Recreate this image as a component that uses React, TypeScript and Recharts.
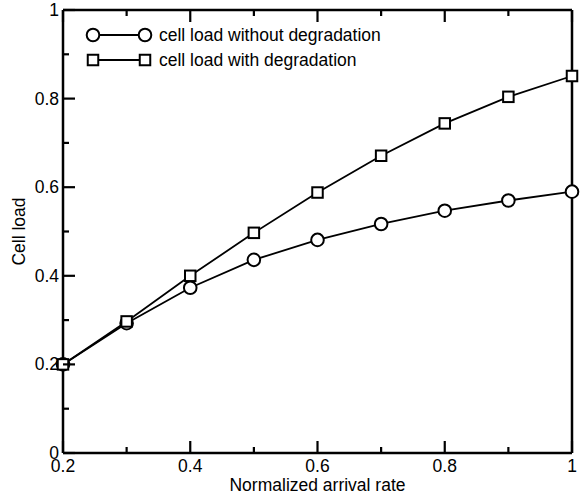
import React from 'react';
import { LineChart, Line, XAxis, YAxis } from 'recharts';

const arrivalRates = [0.2, 0.3, 0.4, 0.5, 0.6, 0.7, 0.8, 0.9, 1.0];
const loadWithout = [0.2, 0.293, 0.373, 0.436, 0.481, 0.517, 0.547, 0.570, 0.590];
const loadWith = [0.2, 0.297, 0.4, 0.497, 0.588, 0.671, 0.744, 0.804, 0.851];

const xTicks = [0.2, 0.3, 0.4, 0.5, 0.6, 0.7, 0.8, 0.9, 1.0];
const xTickLabels = ['0.2', '', '0.4', '', '0.6', '', '0.8', '', '1'];
const yTicks = [0, 0.1, 0.2, 0.3, 0.4, 0.5, 0.6, 0.7, 0.8, 0.9, 1.0];
const yTickLabels = ['0', '', '0.2', '', '0.4', '', '0.6', '', '0.8', '', '1'];

const seriesNames = ['cell load without degradation', 'cell load with degradation'];
const xTitle = 'Normalized arrival rate';
const yTitle = 'Cell load';

const data = arrivalRates.map((x, i) => ({ x, without: loadWithout[i], with: loadWith[i] }));

const FONT = '"Liberation Sans", Arial, Helvetica, sans-serif';
const FS = 17.5;

const BottomTick = (props: any) => {
  const { x, y, index } = props;
  const label = xTickLabels[index];
  const len = label ? 12 : 6;
  return (
    <g>
      <line x1={x} y1={y} x2={x} y2={y - len} stroke="black" strokeWidth={2.2} />
      <text x={x} y={y + 19} textAnchor="middle" fontFamily={FONT} fontSize={FS} fill="black">{label}</text>
    </g>
  );
};
const TopTick = (props: any) => {
  const { x, y, index } = props;
  const len = xTickLabels[index] ? 12 : 6;
  return <line x1={x} y1={y} x2={x} y2={y + len} stroke="black" strokeWidth={2.2} />;
};
const LeftTick = (props: any) => {
  const { x, y, index } = props;
  const label = yTickLabels[index];
  const len = label ? 12 : 6;
  return (
    <g>
      <line x1={x} y1={y} x2={x + len} y2={y} stroke="black" strokeWidth={2.2} />
      <text x={x - 4} y={y + 6} textAnchor="end" fontFamily={FONT} fontSize={FS} fill="black">{label}</text>
    </g>
  );
};
const RightTick = (props: any) => {
  const { x, y, index } = props;
  const len = yTickLabels[index] ? 12 : 6;
  return <line x1={x} y1={y} x2={x - len} y2={y} stroke="black" strokeWidth={2.2} />;
};

const CircleDot = (props: any) => {
  const { cx, cy } = props;
  if (cx == null || cy == null) return null;
  return <circle cx={cx} cy={cy} r={6.3} fill="#fff" stroke="black" strokeWidth={2} />;
};
const SquareDot = (props: any) => {
  const { cx, cy } = props;
  if (cx == null || cy == null) return null;
  return <rect x={cx - 5.25} y={cy - 5.25} width={10.5} height={10.5} fill="#fff" stroke="black" strokeWidth={2} />;
};

const Overlay = () => (
  <svg width={582} height={495} style={{ position: 'absolute', left: 0, top: 0, overflow: 'visible', pointerEvents: 'none' }}>
    <line x1={93} y1={35} x2={145} y2={35} stroke="black" strokeWidth={1.8} />
    <CircleDot cx={93} cy={35} />
    <CircleDot cx={145} cy={35} />
    <text x={159} y={41} fontFamily={FONT} fontSize={FS} fill="black">{seriesNames[0]}</text>
    <line x1={93} y1={60} x2={145} y2={60} stroke="black" strokeWidth={1.8} />
    <SquareDot cx={93} cy={60} />
    <SquareDot cx={145} cy={60} />
    <text x={159} y={66} fontFamily={FONT} fontSize={FS} fill="black">{seriesNames[1]}</text>
    <text x={317.5} y={491} textAnchor="middle" fontFamily={FONT} fontSize={FS} fill="black">{xTitle}</text>
    <text x={25} y={231.5} textAnchor="middle" fontFamily={FONT} fontSize={FS} fill="black"
      transform="rotate(-90, 25, 231.5)">{yTitle}</text>
  </svg>
);

export default function App() {
  return (
    <div style={{ position: 'absolute', left: 0, top: 0, width: 582, height: 495, background: '#fff' }}>
      <LineChart width={582} height={495} data={data} margin={{ top: 9, right: 9, left: 62, bottom: 41 }}>
        <XAxis xAxisId="b" dataKey="x" type="number" domain={[0.2, 1]} ticks={xTicks} interval={0} height={1}
          tickSize={0} tickMargin={0} tickLine={false} stroke="black" axisLine={{ stroke: 'black', strokeWidth: 2.5 }}
          tick={<BottomTick />} />
        <XAxis xAxisId="t" orientation="top" dataKey="x" type="number" domain={[0.2, 1]} ticks={xTicks} interval={0} height={1}
          tickSize={0} tickMargin={0} tickLine={false} stroke="black" axisLine={{ stroke: 'black', strokeWidth: 2.5 }}
          tick={<TopTick />} />
        <YAxis yAxisId="l" type="number" domain={[0, 1]} ticks={yTicks} interval={0} width={1}
          tickSize={0} tickMargin={0} tickLine={false} stroke="black" axisLine={{ stroke: 'black', strokeWidth: 2.5 }}
          tick={<LeftTick />} />
        <YAxis yAxisId="r" orientation="right" type="number" domain={[0, 1]} ticks={yTicks} interval={0} width={1}
          tickSize={0} tickMargin={0} tickLine={false} stroke="black" axisLine={{ stroke: 'black', strokeWidth: 2.5 }}
          tick={<RightTick />} />
        <Line xAxisId="b" yAxisId="l" type="linear" dataKey="without" stroke="black"
          strokeWidth={1.8} dot={<CircleDot />} isAnimationActive={false} />
        <Line xAxisId="b" yAxisId="l" type="linear" dataKey="with" stroke="black"
          strokeWidth={1.8} dot={<SquareDot />} isAnimationActive={false} />
      </LineChart>
      <Overlay />
    </div>
  );
}
